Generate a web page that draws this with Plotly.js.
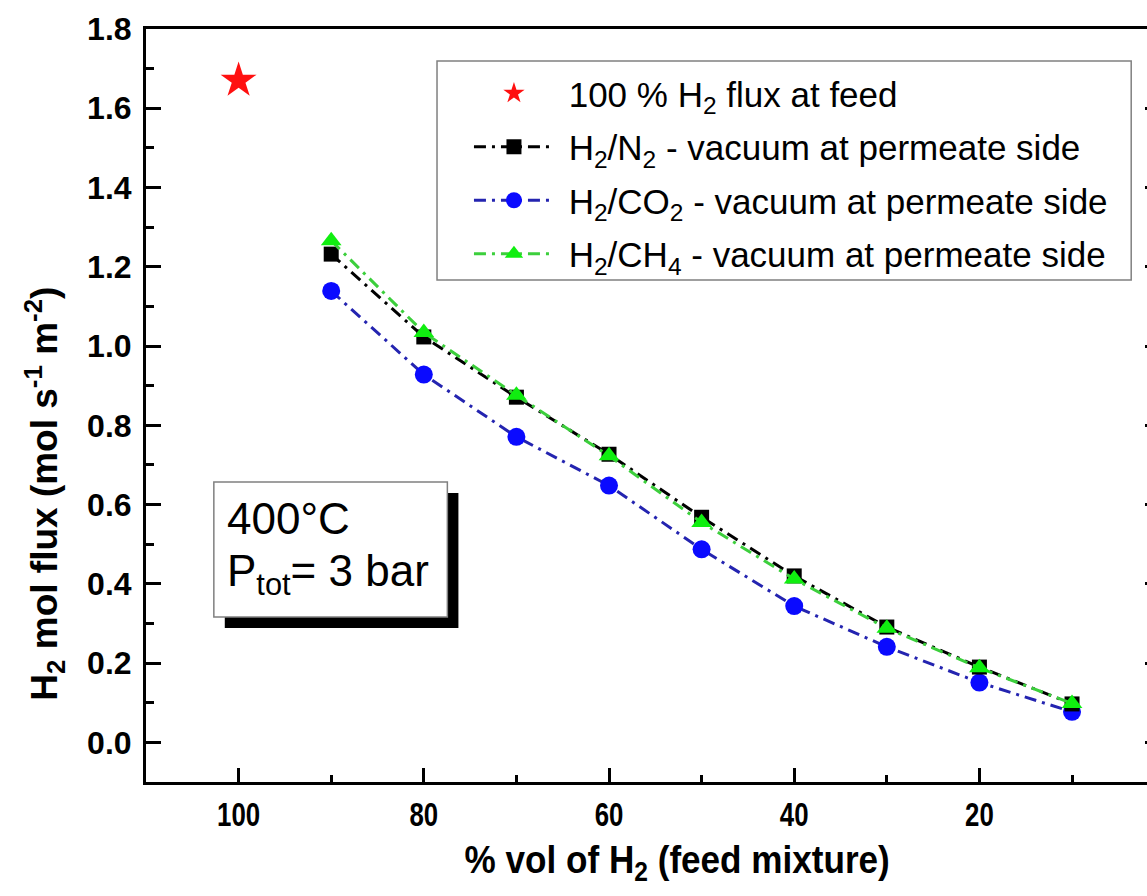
<!DOCTYPE html>
<html>
<head>
<meta charset="utf-8">
<script src="https://cdn.plot.ly/plotly-3.0.1.min.js"></script>
<style>
  html, body { margin: 0; padding: 0; overflow: hidden; background: #fff; }
  #chart { width: 1180px; height: 896px; }
</style>
</head>
<body>
<div id="chart"></div>
<script>
// H2 content of the feed mixture (% vol)
const feedH2 = [90, 80, 70, 60, 50, 40, 30, 20, 10];
// pure hydrogen reference point
const pureFeed = [100];
const pureFlux = [1.67];
// H2 molar flux (mol s^-1 m^-2), vacuum on the permeate side
const fluxN2  = [1.232, 1.023, 0.871, 0.727, 0.568, 0.420, 0.291, 0.190, 0.097];
const fluxCO2 = [1.139, 0.928, 0.771, 0.648, 0.487, 0.344, 0.241, 0.151, 0.077];
const fluxCH4 = [1.266, 1.034, 0.876, 0.723, 0.555, 0.412, 0.288, 0.188, 0.098];
// axis ticks
const xMajor = [100, 80, 60, 40, 20];
const xMinor = [90, 70, 50, 30, 10];

const SANS = "'Liberation Sans', Arial, sans-serif";
const DASHDOT = '12px,6px,3px,6px';
const SP = '&nbsp;';

const traces = [
  {
    x: pureFeed, y: pureFlux, type: 'scatter', mode: 'markers',
    name: SP + '100 % H<sub>2</sub> flux at feed', legendrank: 1, legendgroup: 'a',
    marker: { symbol: 'star', size: 27, color: '#ff1010', line: { width: 0 } }
  },
  {
    x: feedH2, y: fluxCO2, type: 'scatter', mode: 'lines+markers',
    name: SP + 'H<sub>2</sub>/CO<sub>2</sub> - vacuum at permeate side', legendrank: 3, legendgroup: 'c',
    line: { color: '#2424b0', width: 3, dash: DASHDOT },
    marker: { symbol: 'circle', size: 18, color: '#0a0aff', line: { width: 0 } }
  },
  {
    x: feedH2, y: fluxN2, type: 'scatter', mode: 'lines+markers',
    name: SP + 'H<sub>2</sub>/N<sub>2</sub> - vacuum at permeate side', legendrank: 2, legendgroup: 'b',
    line: { color: '#000000', width: 3, dash: DASHDOT },
    marker: { symbol: 'square', size: 15, color: '#000000', line: { width: 0 } }
  },
  {
    x: feedH2, y: fluxCH4, type: 'scatter', mode: 'lines+markers',
    name: SP + 'H<sub>2</sub>/CH<sub>4</sub> - vacuum at permeate side', legendrank: 4, legendgroup: 'd',
    line: { color: '#3ccf3c', width: 3, dash: DASHDOT },
    marker: { symbol: 'triangle-up', size: 18, color: '#10ee10', line: { width: 0 } }
  }
];

const layout = {
  width: 1180, height: 896,
  margin: { l: 146, r: 20, t: 29, b: 114 },
  paper_bgcolor: '#fff', plot_bgcolor: '#fff',
  showlegend: true,
  xaxis: {
    range: [110, 0.5], showgrid: false, zeroline: false,
    showline: true, linecolor: '#000', linewidth: 3, mirror: true,
    ticks: 'inside', ticklen: 14, tickwidth: 3, tickcolor: '#000',
    tickmode: 'array', tickvals: xMajor,
    minor: { tickmode: 'array', tickvals: xMinor, ticks: 'inside', ticklen: 7, tickwidth: 3, tickcolor: '#000', showgrid: false },
    tickfont: { family: SANS, size: 34, color: '#000', weight: 'bold' }
  },
  yaxis: {
    range: [-0.1, 1.8], showgrid: false, zeroline: false,
    showline: true, linecolor: '#000', linewidth: 3, mirror: 'ticks',
    ticks: 'inside', ticklen: 15, tickwidth: 3, tickcolor: '#000',
    tick0: 0, dtick: 0.2, tickformat: '.1f', ticklabelstandoff: 5,
    minor: { tick0: 0, dtick: 0.1, ticks: 'inside', ticklen: 8, tickwidth: 3, tickcolor: '#000', showgrid: false },
    tickfont: { family: SANS, size: 32, color: '#000', weight: 'bold' }
  },
  legend: {
    x: 0.3185, y: 0.9535, xanchor: 'left', yanchor: 'top',
    bgcolor: 'rgba(0,0,0,0)', borderwidth: 0,
    font: { family: SANS, size: 35, color: '#000' },
    itemwidth: 80, tracegroupgap: 5
  },
  shapes: [
    // legend frame
    { type: 'rect', xref: 'paper', yref: 'paper', layer: 'below',
      x0: 0.2870, x1: 0.9716, y0: 0.6667, y1: 0.9575,
      fillcolor: '#fff', line: { color: '#808080', width: 1.5 } },
    // condition box with drop shadow
    { type: 'rect', xref: 'paper', yref: 'paper', x0: 0.0777, x1: 0.3081, y0: 0.2045, y1: 0.3838,
      fillcolor: '#000', line: { width: 0 } },
    { type: 'rect', xref: 'paper', yref: 'paper', x0: 0.0669, x1: 0.2972, y0: 0.2191, y1: 0.3984,
      fillcolor: '#fff', line: { color: '#808080', width: 1.5 } }
  ],
  annotations: [
    { xref: 'paper', yref: 'paper', x: 0.0777, y: 0.3493, xanchor: 'left', yanchor: 'middle',
      align: 'left', showarrow: false, text: '400°C',
      font: { family: SANS, size: 44, color: '#000' } },
    { xref: 'paper', yref: 'paper', x: 0.0777, y: 0.2766, xanchor: 'left', yanchor: 'middle',
      align: 'left', showarrow: false, text: 'P<sub>tot</sub>= 3 bar',
      font: { family: SANS, size: 44, color: '#000' } },
    { xref: 'paper', yref: 'paper', x: 0.524, y: -0.1063, xanchor: 'center', yanchor: 'middle',
      showarrow: false, text: '% vol of H<sub>2</sub> (feed mixture)',
      font: { family: SANS, size: 39, color: '#000', weight: 'bold' } },
    { xref: 'paper', yref: 'paper', x: -0.101, y: 0.3824, xanchor: 'center', yanchor: 'middle',
      textangle: -90, showarrow: false,
      text: 'H<sub>2</sub> mol flux (mol s<sup>-1</sup> m<sup>-2</sup>)',
      font: { family: SANS, size: 37, color: '#000', weight: 'bold' } }
  ]
};

// narrow the glyphs of the bold axis texts (no condensed face is installed)
function condense(el, factor) {
  if (!el) return;
  const w = el.getComputedTextLength();
  el.setAttribute('textLength', (w * factor).toFixed(1));
  el.setAttribute('lengthAdjust', 'spacingAndGlyphs');
}

Plotly.newPlot('chart', traces, layout, { staticPlot: true, displayModeBar: false }).then(gd => {
  gd.querySelectorAll('.xtick text').forEach(t => condense(t, 0.76));
  const notes = gd.querySelectorAll('.annotation-text');
  condense(notes[2], 0.9);
});
</script>
</body>
</html>
